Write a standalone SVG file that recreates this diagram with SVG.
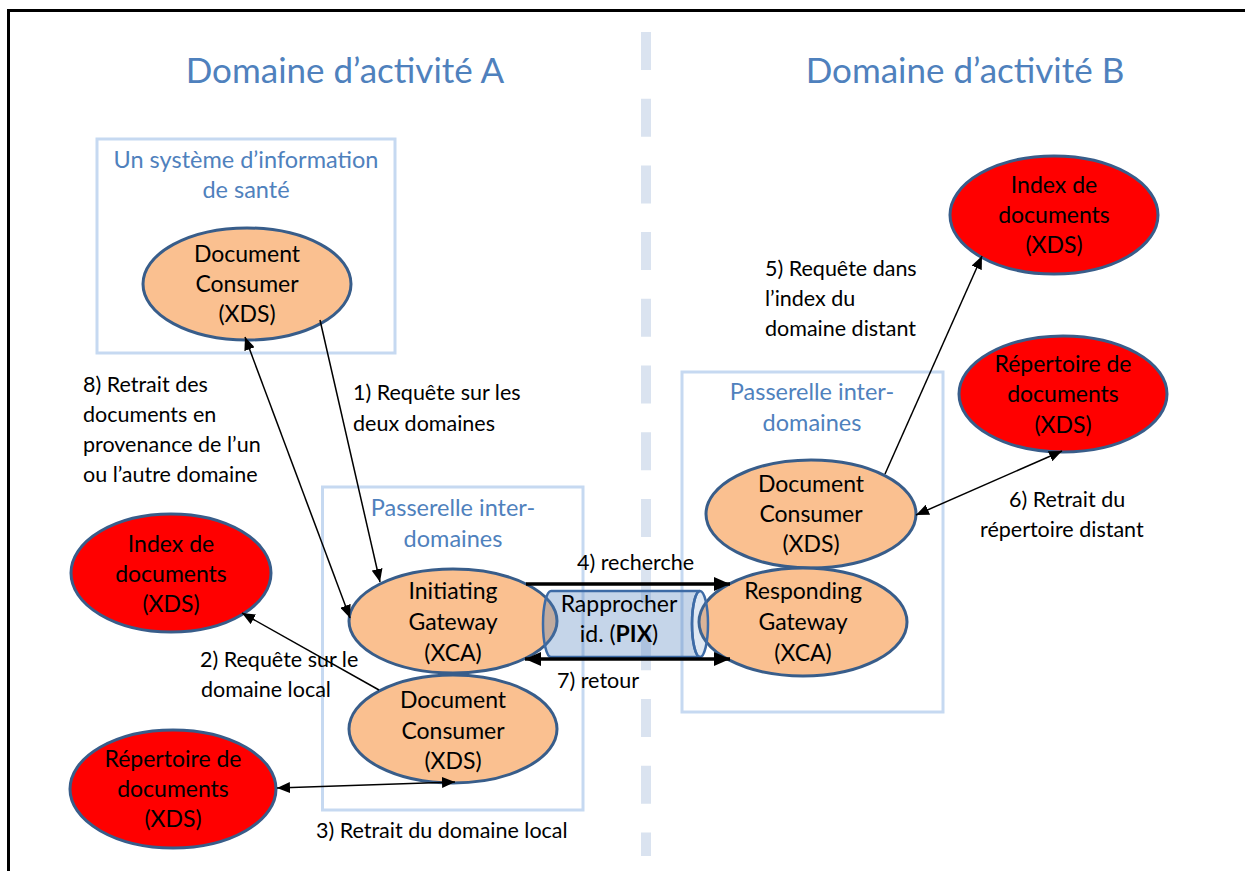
<svg xmlns="http://www.w3.org/2000/svg" width="1245" height="871" viewBox="0 0 1245 871">
  <defs>
    <style>
      text { font-family: Lato, "Liberation Sans", sans-serif; }
      .title { font-size: 35px; fill: #4f81bd; text-anchor: middle; }
      .boxlabel { font-size: 23.5px; fill: #4f81bd; text-anchor: middle; }
      .nodetext { font-size: 23px; fill: #000; text-anchor: middle; }
      .label { font-size: 21.5px; fill: #000; }
      .box { fill: none; stroke: #c6d9f1; stroke-width: 3; }
      .actor { fill: #fac090; stroke: #385d8a; stroke-width: 3; }
      .store { fill: #ff0000; stroke: #385d8a; stroke-width: 3; }
      .thin { stroke: #000; stroke-width: 1.5; fill: none; }
      .thick { stroke: #000; stroke-width: 3.5; fill: none; }
    </style>
    <marker id="arr" markerUnits="userSpaceOnUse" markerWidth="13" markerHeight="11" viewBox="0 0 13 11" refX="13" refY="5.5" orient="auto-start-reverse">
      <path d="M0,0 L13,5.5 L0,11 z" fill="#000"/>
    </marker>
    <marker id="arrBig" markerUnits="userSpaceOnUse" markerWidth="16" markerHeight="14" viewBox="0 0 16 14" refX="16" refY="7" orient="auto-start-reverse">
      <path d="M0,0 L16,7 L0,14 z" fill="#000"/>
    </marker>
  </defs>

  <rect width="1245" height="871" fill="#fff"/>
  <!-- outer frame -->
  <rect x="8.5" y="10.5" width="1270" height="900" fill="none" stroke="#000" stroke-width="3"/>

  <!-- domain separator -->
  <line x1="646" y1="32" x2="646" y2="856" stroke="#dae3f0" stroke-width="10" stroke-dasharray="38 28.7"/>

  <g id="titles">
    <text class="title" x="345" y="83">Domaine d’activité A</text>
    <text class="title" x="965" y="83">Domaine d’activité B</text>
  </g>

  <!-- grouping boxes -->
  <g id="box-si">
    <rect class="box" x="97" y="139" width="298" height="214"/>
    <text class="boxlabel" x="246" y="168">Un système d’information</text>
    <text class="boxlabel" x="246" y="198">de santé</text>
  </g>
  <g id="box-gw-a">
    <rect class="box" x="322.5" y="487" width="260.5" height="323"/>
    <text class="boxlabel" x="453" y="516">Passerelle inter-</text>
    <text class="boxlabel" x="453" y="547">domaines</text>
  </g>
  <g id="box-gw-b">
    <rect class="box" x="682" y="372" width="261" height="340"/>
    <text class="boxlabel" x="812" y="400">Passerelle inter-</text>
    <text class="boxlabel" x="812" y="431">domaines</text>
  </g>

  <!-- actors -->
  <g id="consumer-si">
    <ellipse class="actor" cx="247" cy="284" rx="104" ry="56"/>
    <text class="nodetext" x="247" y="262">Document</text>
    <text class="nodetext" x="247" y="292">Consumer</text>
    <text class="nodetext" x="247" y="322">(XDS)</text>
  </g>
  <g id="initiating-gateway">
    <ellipse class="actor" cx="453" cy="621" rx="104" ry="52"/>
    <text class="nodetext" x="453" y="599">Initiating</text>
    <text class="nodetext" x="453" y="630">Gateway</text>
    <text class="nodetext" x="453" y="661">(XCA)</text>
  </g>
  <g id="consumer-a">
    <ellipse class="actor" cx="453" cy="729" rx="104" ry="54"/>
    <text class="nodetext" x="453" y="708">Document</text>
    <text class="nodetext" x="453" y="739">Consumer</text>
    <text class="nodetext" x="453" y="769">(XDS)</text>
  </g>
  <g id="consumer-b">
    <ellipse class="actor" cx="811" cy="514" rx="105" ry="54"/>
    <text class="nodetext" x="811" y="492">Document</text>
    <text class="nodetext" x="811" y="522">Consumer</text>
    <text class="nodetext" x="811" y="552">(XDS)</text>
  </g>
  <g id="responding-gateway">
    <ellipse class="actor" cx="803" cy="622" rx="104" ry="54"/>
    <text class="nodetext" x="803" y="599">Responding</text>
    <text class="nodetext" x="803" y="630">Gateway</text>
    <text class="nodetext" x="803" y="661">(XCA)</text>
  </g>

  <!-- document registries and repositories -->
  <g id="registry-a">
    <ellipse class="store" cx="171" cy="573" rx="100" ry="59"/>
    <text class="nodetext" x="171" y="552">Index de</text>
    <text class="nodetext" x="171" y="582">documents</text>
    <text class="nodetext" x="171" y="612">(XDS)</text>
  </g>
  <g id="repository-a">
    <ellipse class="store" cx="173" cy="789" rx="103" ry="59"/>
    <text class="nodetext" x="173" y="767">Répertoire de</text>
    <text class="nodetext" x="173" y="797">documents</text>
    <text class="nodetext" x="173" y="827">(XDS)</text>
  </g>
  <g id="registry-b">
    <ellipse class="store" cx="1054" cy="215" rx="104" ry="59"/>
    <text class="nodetext" x="1054" y="193">Index de</text>
    <text class="nodetext" x="1054" y="223">documents</text>
    <text class="nodetext" x="1054" y="253">(XDS)</text>
  </g>
  <g id="repository-b">
    <ellipse class="store" cx="1063" cy="394" rx="104" ry="58"/>
    <text class="nodetext" x="1063" y="372">Répertoire de</text>
    <text class="nodetext" x="1063" y="402">documents</text>
    <text class="nodetext" x="1063" y="433">(XDS)</text>
  </g>

  <!-- PIX identity cross-referencing (translucent cylinder) -->
  <g id="pix">
    <path d="M551,591 L700,591 A8,33 0 0 0 700,657 L551,657 A8,33 0 0 1 551,591 Z" fill="#4f81bd" fill-opacity="0.33" stroke="#3d6ba6" stroke-width="2.5"/>
    <ellipse cx="700" cy="624" rx="8" ry="33" fill="#4f81bd" fill-opacity="0.18" stroke="#3d6ba6" stroke-width="2.5"/>
    <text class="nodetext" x="619" y="612">Rapprocher</text>
    <text class="nodetext" x="619" y="642">id. (<tspan font-weight="bold">PIX</tspan>)</text>
  </g>

  <!-- connectors -->
  <g id="connectors">
    <line class="thin" x1="320" y1="320" x2="380" y2="582" marker-end="url(#arr)"/>
    <line class="thin" x1="245" y1="337" x2="350" y2="618" marker-start="url(#arr)" marker-end="url(#arr)"/>
    <line class="thin" x1="379" y1="690" x2="242" y2="613" marker-end="url(#arr)"/>
    <line class="thin" x1="277" y1="788" x2="455" y2="782" marker-start="url(#arr)" marker-end="url(#arr)"/>
    <line class="thin" x1="885" y1="474" x2="982" y2="256" marker-end="url(#arr)"/>
    <line class="thin" x1="916" y1="515" x2="1062" y2="451" marker-start="url(#arr)" marker-end="url(#arr)"/>
    <line class="thick" x1="526" y1="584" x2="730" y2="584" marker-end="url(#arrBig)"/>
    <line class="thick" x1="525" y1="659" x2="730" y2="659" marker-start="url(#arrBig)" marker-end="url(#arrBig)"/>
  </g>

  <!-- step labels -->
  <g id="labels">
    <text class="label" x="83" y="392">8) Retrait des</text>
    <text class="label" x="83" y="422">documents en</text>
    <text class="label" x="83" y="452">provenance de l’un</text>
    <text class="label" x="83" y="482">ou l’autre domaine</text>
    <text class="label" x="353" y="400">1) Requête sur les</text>
    <text class="label" x="353" y="431">deux domaines</text>
    <text class="label" x="200" y="667">2) Requête sur le</text>
    <text class="label" x="201" y="697">domaine local</text>
    <text class="label" x="316" y="838">3) Retrait du domaine local</text>
    <text class="label" x="577" y="570">4) recherche</text>
    <text class="label" x="557" y="688">7) retour</text>
    <text class="label" x="765" y="276">5) Requête dans</text>
    <text class="label" x="765" y="306">l’index du</text>
    <text class="label" x="765" y="336">domaine distant</text>
    <text class="label" x="1009" y="507">6) Retrait du</text>
    <text class="label" x="980" y="537">répertoire distant</text>
  </g>
</svg>
